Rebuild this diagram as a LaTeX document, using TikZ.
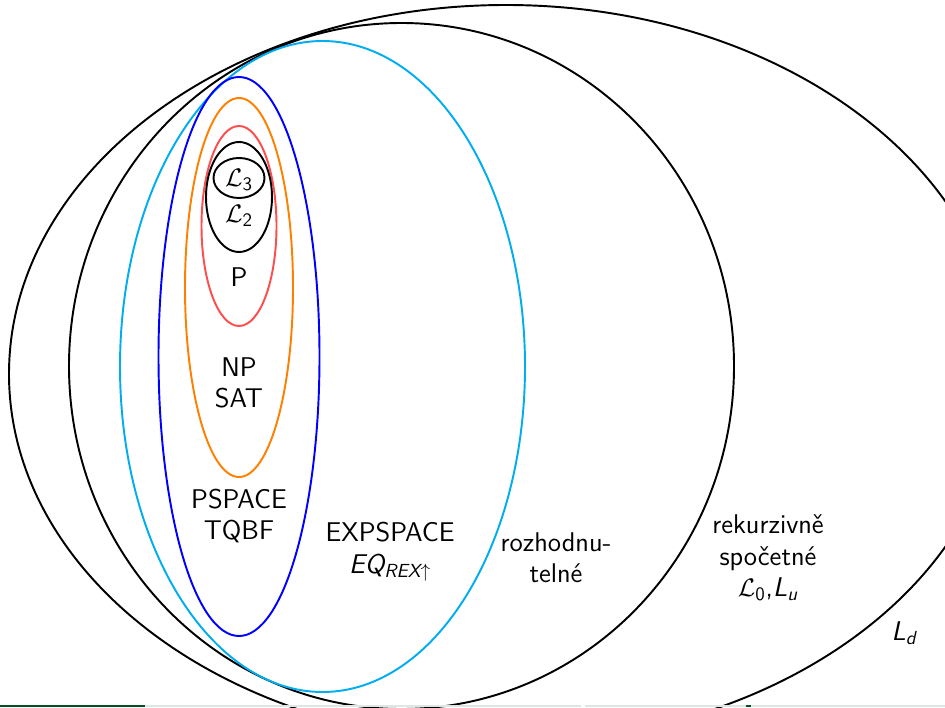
\documentclass[tikz,border=0pt]{standalone}
\usepackage{xcolor}
\usepackage{amsmath,amssymb}
\usepackage{tikz}
\usetikzlibrary{positioning}
\renewcommand{\familydefault}{\sfdefault}
\definecolor{footdark}{HTML}{004D26}
\definecolor{footlight}{HTML}{DDE8E3}
\tikzset{
  set/.style={line width=1.1pt},
  lbl/.style={align=center,inner sep=1pt,font=\fontsize{15.4}{17.8}\selectfont},
}
\newcommand{\cL}[1]{$\mathcal{L}_{\textsf{#1}}$}
\newcommand{\sfL}[1]{{\itshape L}$_{\textsf{\itshape #1}}$}

\begin{document}
\begin{tikzpicture}[x=0.02cm,y=0.02cm]
  \useasboundingbox (0,0) rectangle (945,707);
  \begin{scope}
    \clip (0,0) rectangle (945,707);
    % nested classes
    \draw[set] (506,333) ellipse [x radius=497, y radius=369];
    \draw[set] (401.5,341) ellipse [x radius=332.5, y radius=343];
    \draw[set,cyan] (322.5,340.5) ellipse [x radius=202.5, y radius=325.5];
    \draw[set,blue] (239,350.5) ellipse [x radius=80.5, y radius=279.5];
    \draw[set,orange] (239,419.5) ellipse [x radius=54, y radius=189.5];
    \draw[set,red!70] (239,481) ellipse [x radius=37.5, y radius=100];
    \draw[set] (239,510) ellipse [x radius=33, y radius=55];
    \draw[set] (239,529) ellipse [x radius=25.5, y radius=20];
    % footline
    \fill[footdark] (0,0) rectangle (145,2);
    \fill[footlight] (145,0) rectangle (581,2);
    \fill[footlight] (585,0) rectangle (945,2);
    \fill[footdark] (746,0) rectangle (751,2);
  \end{scope}
  \node[lbl] (l3) at (239,527) {\cL{3}};
  \node[lbl] (l2) at (239,491) {\cL{2}};
  \node[lbl] (p) at (239,430) {P};
  \node[lbl] (np) at (239,324) {NP\\SAT};
  \node[lbl] (ps) at (239,191) {PSPACE\\TQBF};
  \node[lbl] (exps) at (390,155) {EXPSPACE\\{\itshape EQ}$_{\textsf{\itshape REX}\uparrow}$};
  \node[lbl] (dec) at (556,149) {rozhodnu-\\telné};
  \node[lbl] (re) at (768,149) {rekurzivně\\spočetné\\\cL{0},\sfL{u}};
  \node[lbl] (ld) at (904,74) {\sfL{d}};
\end{tikzpicture}
\end{document}
